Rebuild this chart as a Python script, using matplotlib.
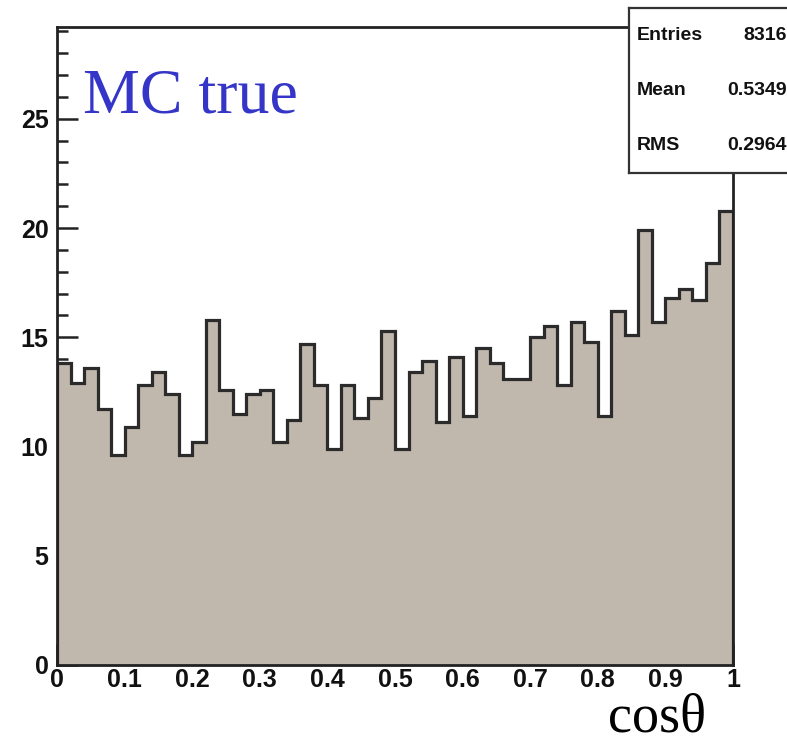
import numpy as np
import matplotlib
matplotlib.use('Agg')
import matplotlib.pyplot as plt
from matplotlib.ticker import MultipleLocator

# contenido de los 50 bins de cos(theta)
bin_values = [13.8, 12.9, 13.6, 11.7, 9.6, 10.9, 12.8, 13.4, 12.4, 9.6,
              10.2, 15.8, 12.6, 11.5, 12.4, 12.6, 10.2, 11.2, 14.7, 12.8,
              9.9, 12.8, 11.3, 12.2, 15.3, 9.9, 13.4, 13.9, 11.1, 14.1,
              11.4, 14.5, 13.8, 13.1, 13.1, 15.0, 15.5, 12.8, 15.7, 14.8,
              11.4, 16.2, 15.1, 19.9, 15.7, 16.8, 17.2, 16.7, 18.4, 20.8]
x_min, x_max = 0.0, 1.0
y_max = 29.2

x_ticks = [0, 0.1, 0.2, 0.3, 0.4, 0.5, 0.6, 0.7, 0.8, 0.9, 1]
x_ticklabels = ['0', '0.1', '0.2', '0.3', '0.4', '0.5', '0.6', '0.7', '0.8', '0.9', '1']
y_ticks = [0, 5, 10, 15, 20, 25]

stats_names = ['Entries', 'Mean', 'RMS']
stats_vals = ['8316', '0.5349', '0.2964']

edges = np.linspace(x_min, x_max, len(bin_values) + 1)

fig = plt.figure(figsize=(7.87, 7.45), dpi=100)
ax = fig.add_axes([57 / 787, 80 / 745, 676 / 787, 638 / 745])

ax.stairs(bin_values, edges, baseline=0, fill=True, color='#c0b7ad', zorder=1)
ax.stairs(bin_values, edges, baseline=0, fill=False, color='#2b2b2b', linewidth=2.3, zorder=2)

ax.set_xlim(x_min, x_max)
ax.set_ylim(0, y_max)
ax.set_axisbelow(True)

ax.set_xticks(x_ticks)
ax.set_xticklabels(x_ticklabels)
ax.set_yticks(y_ticks)
ax.yaxis.set_minor_locator(MultipleLocator(1))
ax.xaxis.set_minor_locator(MultipleLocator(0.02))
ax.tick_params(which='both', direction='in', color='#222222', width=1.8)
ax.tick_params(which='major', length=15)
ax.tick_params(which='minor', length=8)
ax.tick_params(axis='x', pad=2)
ax.tick_params(axis='y', pad=6)
for lab in ax.get_xticklabels() + ax.get_yticklabels():
    lab.set_fontfamily('Liberation Sans')
    lab.set_fontweight('bold')
    lab.set_fontsize(18)
    lab.set_color('#111111')
for sp in ax.spines.values():
    sp.set_linewidth(2)
    sp.set_color('#222222')

ax.text(0.038, 0.935, 'MC true', transform=ax.transAxes, fontfamily='Liberation Serif',
        fontsize=46, color='#3535c8', va='top', ha='left')
fig.text(706 / 787, 1 / 745, 'cosθ', fontfamily='Liberation Serif', fontsize=39,
         color='black', ha='right', va='bottom')

# caja de estadisticas estilo ROOT
sax = fig.add_axes([629 / 787, 572 / 745, 200 / 787, 165 / 745])
sax.set_xticks([])
sax.set_yticks([])
for sp in sax.spines.values():
    sp.set_linewidth(1.6)
    sp.set_color('#333333')
for i, (name, val) in enumerate(zip(stats_names, stats_vals)):
    yy = 1 - (i + 0.5) / 3
    sax.text(0.04, yy, name, transform=sax.transAxes, fontfamily='Liberation Sans',
             fontweight='bold', fontsize=14, va='center', ha='left', color='#111111')
    sax.text(158 / 200, yy, val, transform=sax.transAxes, fontfamily='Liberation Sans',
             fontweight='bold', fontsize=14, va='center', ha='right', color='#111111')

fig.savefig('out.png', dpi=100)
